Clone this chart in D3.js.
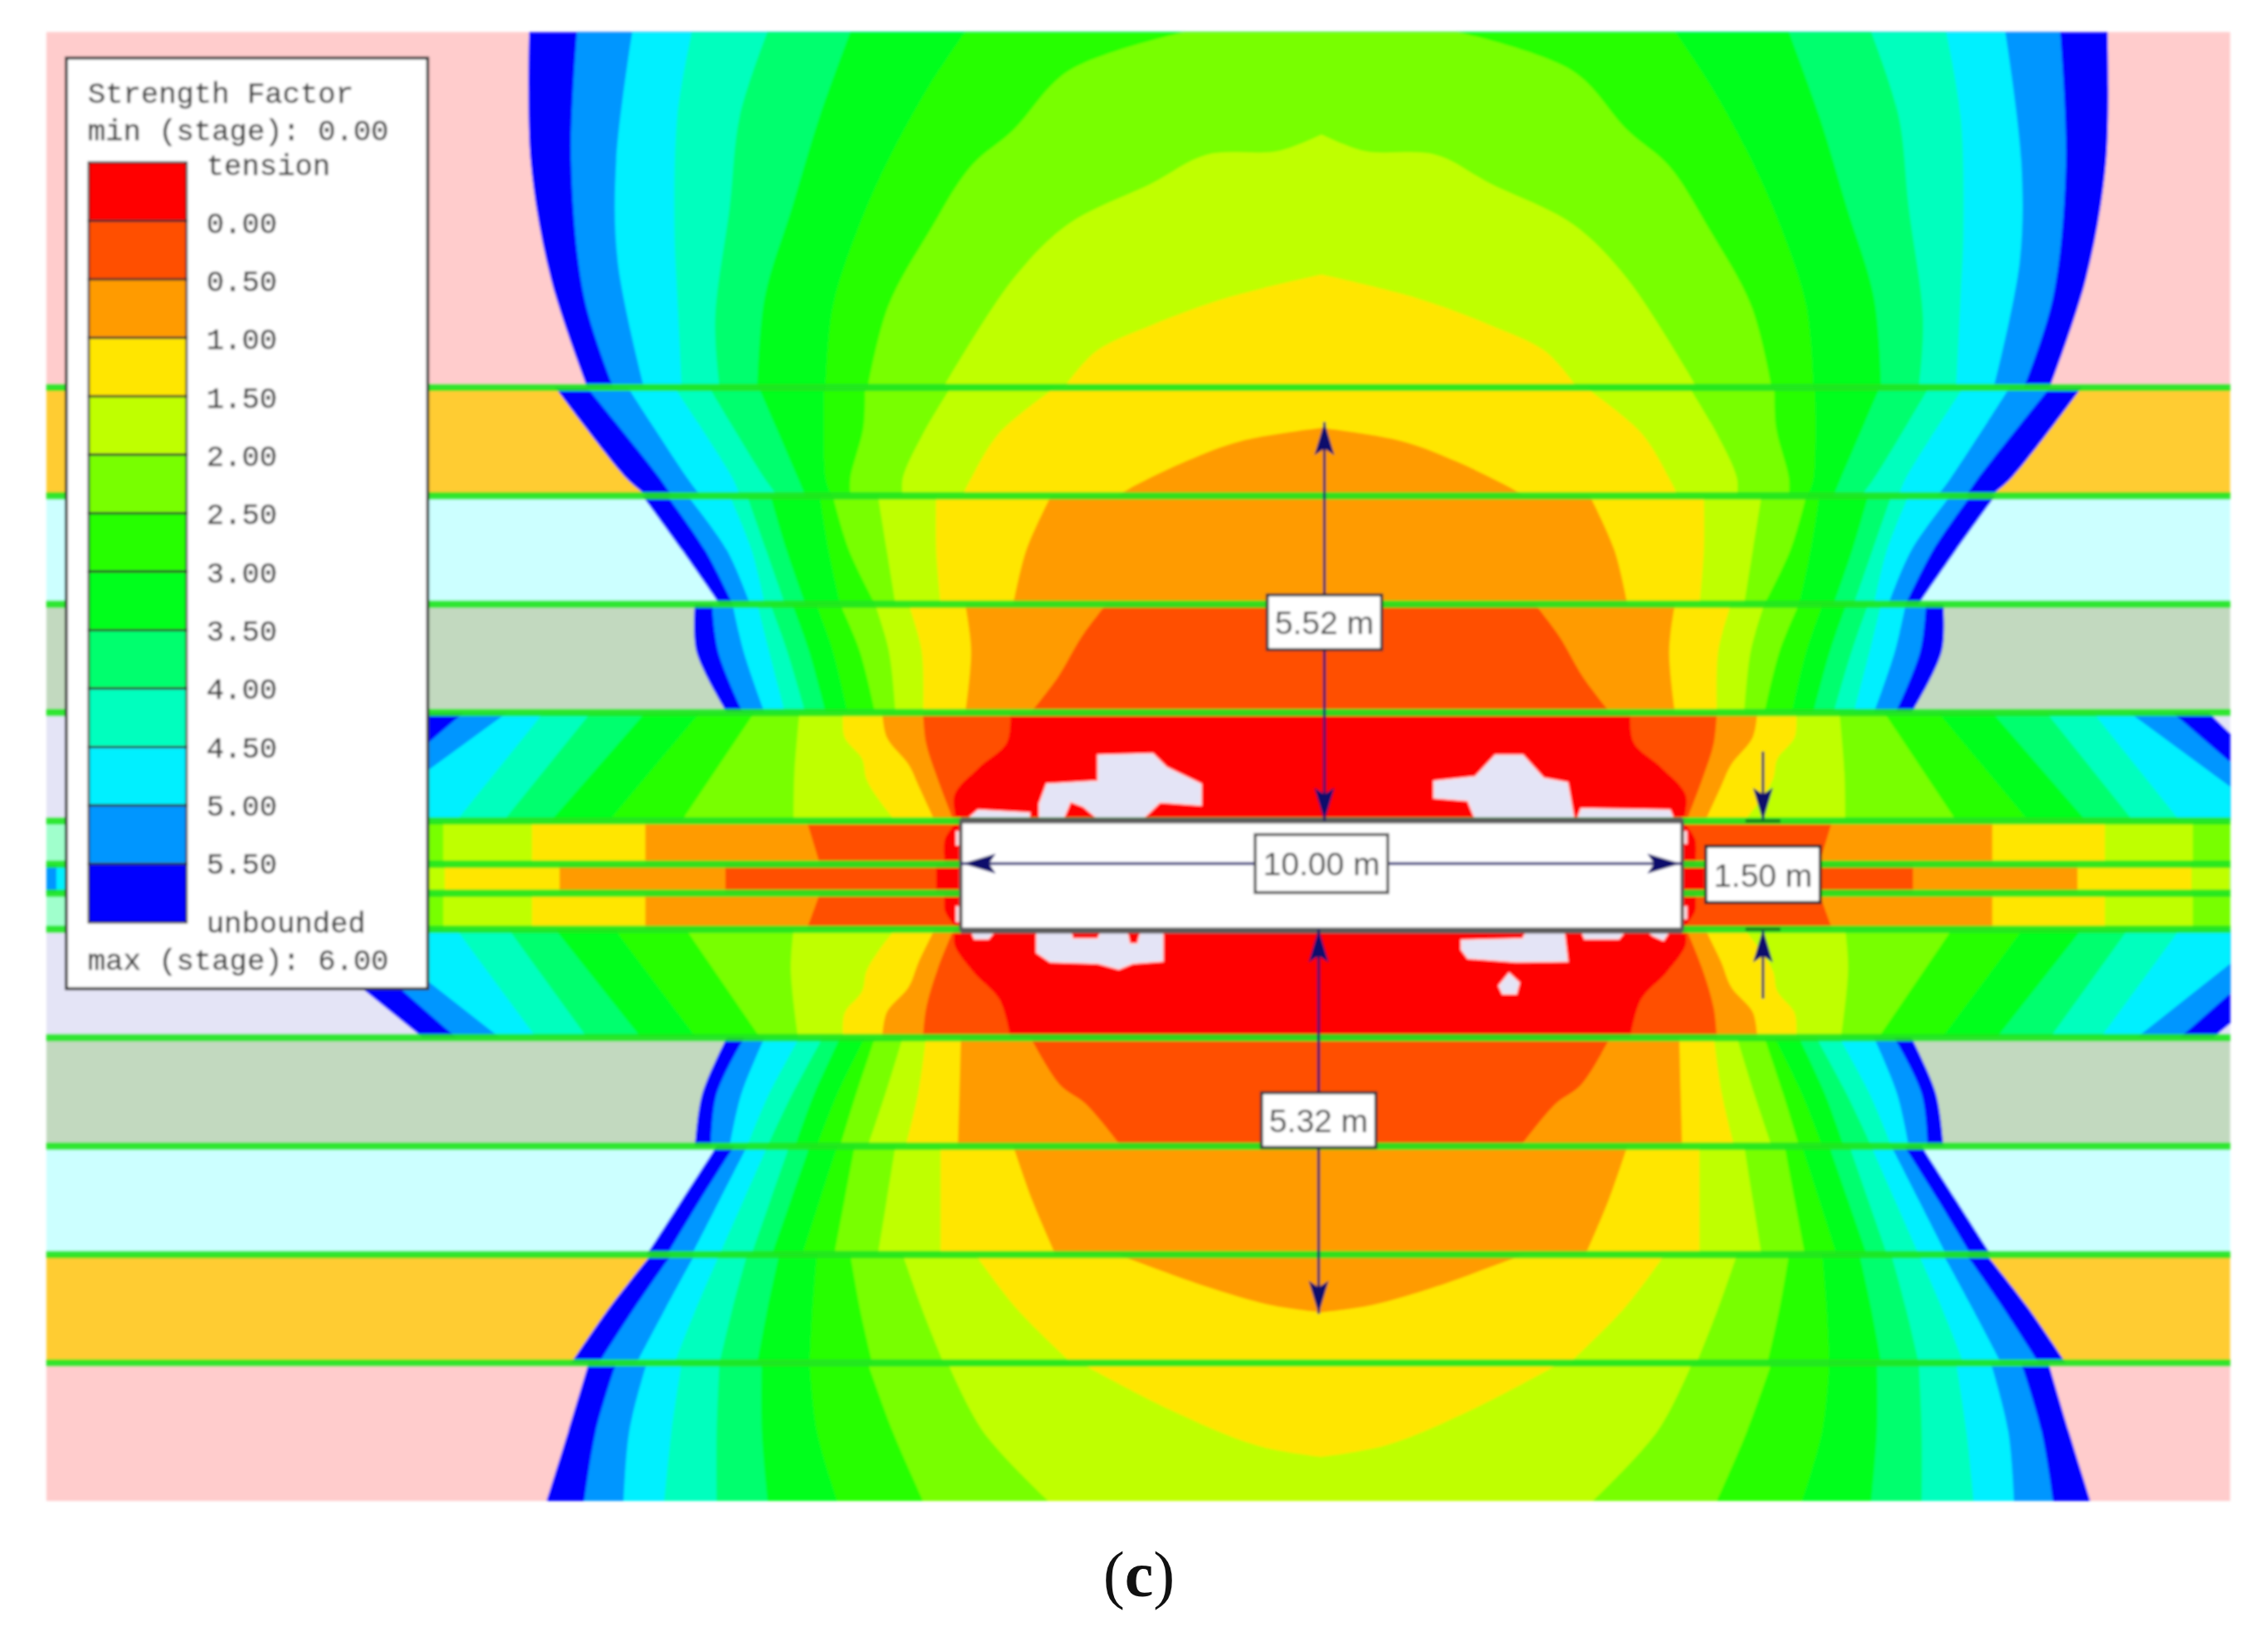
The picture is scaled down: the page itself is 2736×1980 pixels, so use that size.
<!DOCTYPE html>
<html lang="en">
<head>
<meta charset="UTF-8">
<title>Strength Factor</title>
<script src="https://cdn.jsdelivr.net/npm/d3@7"></script>
<style>
html,body{margin:0;padding:0;background:#fff;}
svg{display:block;}
</style>
</head>
<body>
<script>
// all model values in metres, x = half width from the opening centre, y up from its centreline
var legendColors=["#ff0000","#ff5000","#ff9b00","#ffe600","#bfff00","#78ff00","#28ff00","#00ff1e","#00ff6e","#00ffbe","#00f0ff","#0096ff","#0000ff"];
var legendLabels=["tension","0.00","0.50","1.00","1.50","2.00","2.50","3.00","3.50","4.00","4.50","5.00","5.50","unbounded"];
// contour colours, outermost first
var levelColors=legendColors.slice().reverse();

var interfaces=[6.75,5.25,3.75,2.25,0.75,0.15,-0.25,-0.75,-2.25,-3.75,-5.25,-6.75];
var layerTops=[11.67,6.75,5.25,3.75,2.25,0.75,0.15,-0.25,-0.75,-2.25,-3.75,-5.25,-6.75];
var layerBottoms=[6.75,5.25,3.75,2.25,0.75,0.15,-0.25,-0.75,-2.25,-3.75,-5.25,-6.75,-8.66];
var layerFills=["#ffcccc","#ffcc33","#ccffff","#c2d9bf","#e4e4f6","#a0ffcc","#0096ff","#a0ffcc","#e4e4f6","#c2d9bf","#ccffff","#ffcc33","#ffcccc"];

var contours0=[
 [[10.90,11.67],[10.88,9.89],[10.60,8.25],[10.10,6.75]],
 [[10.24,11.67],[10.32,9.89],[10.14,7.99],[9.74,6.75]],
 [[9.48,11.67],[9.70,9.89],[9.68,8.49],[9.32,6.75]],
 [[8.66,11.67],[8.86,10.51],[8.90,8.93],[8.86,7.99],[8.80,6.75]],
 [[7.62,11.67],[8.00,10.51],[8.14,9.25],[8.34,7.69],[8.28,6.75]],
 [[6.48,11.67],[6.90,10.51],[7.28,9.25],[7.66,7.99],[7.76,6.75]],
 [[4.90,11.67],[5.38,10.95],[5.96,9.89],[6.38,8.93],[6.72,7.87],[6.82,6.75]],
 [[1.88,11.67],[3.48,11.13],[4.24,10.31],[4.82,9.81],[5.38,8.93],[5.96,7.87],[6.24,6.75]],
 [[0,10.25],[0.60,10.02],[1.58,9.97],[2.34,9.57],[3.48,9.01],[4.24,8.25],[5.20,6.75]],
 [[0,8.31],[1.30,7.99],[2.34,7.61],[3.10,7.25],[3.54,6.75]]
];
var contours1=[
 [[10.54,6.75],[9.56,5.49],[9.28,5.25]],
 [[10.10,6.75],[9.10,5.49],[8.94,5.25]],
 [[9.54,6.75],[8.72,5.49],[8.54,5.25]],
 [[8.90,6.75],[8.10,5.49],[8.00,5.25]],
 [[8.42,6.75],[7.66,5.49],[7.48,5.25]],
 [[7.74,6.75],[7.20,5.49],[7.10,5.25]],
 [[6.84,6.75],[6.82,5.49],[6.74,5.25]],
 [[6.28,6.75],[6.30,6.20],[6.48,5.49],[6.48,5.25]],
 [[5.10,6.75],[5.48,6.11],[5.76,5.49],[5.76,5.25]],
 [[3.66,6.75],[4.44,6.11],[4.82,5.49],[4.94,5.25]],
 [[0,6.19],[1.10,6.01],[1.86,5.73],[2.64,5.35],[2.80,5.25]]
];
var contours2=[
 [[9.34,5.25],[8.80,4.50],[8.28,3.75]],
 [[9.00,5.25],[8.48,4.50],[8.10,3.75]],
 [[8.72,5.25],[8.18,4.50],[7.86,3.75]],
 [[8.14,5.25],[7.84,4.50],[7.66,3.75]],
 [[7.90,5.25],[7.64,4.50],[7.38,3.75]],
 [[7.58,5.25],[7.36,4.50],[7.10,3.75]],
 [[6.90,5.25],[6.78,4.50],[6.62,3.75]],
 [[6.72,5.25],[6.50,4.50],[6.14,3.75]],
 [[6.10,5.25],[5.98,4.50],[5.86,3.75]],
 [[5.30,5.25],[5.30,4.50],[5.24,3.75]],
 [[3.72,5.25],[4.06,4.50],[4.24,3.75]]
];
var contours3=[
 [[8.62,3.75],[8.60,3.10],[8.18,2.25]],
 [[8.38,3.75],[8.30,3.10],[7.96,2.25]],
 [[8.10,3.75],[7.95,3.10],[7.66,2.25]],
 [[7.76,3.75],[7.60,3.10],[7.38,2.25]],
 [[7.58,3.75],[7.35,3.10],[7.10,2.25]],
 [[7.28,3.75],[7.05,3.10],[6.82,2.25]],
 [[6.95,3.75],[6.72,3.10],[6.52,2.25]],
 [[6.62,3.75],[6.35,3.10],[6.14,2.25]],
 [[6.14,3.75],[5.95,3.10],[5.86,2.25]],
 [[5.68,3.75],[5.50,3.10],[5.48,2.25]],
 [[4.90,3.75],[4.82,3.10],[4.90,2.25]],
 [[2.96,3.75],[3.30,3.30],[3.62,2.75],[4.00,2.25]]
];
var contours4=[
 [[12.30,2.25],[13.86,0.75]],
 [[11.80,2.25],[13.54,0.75]],
 [[11.20,2.25],[13.24,0.75]],
 [[10.70,2.25],[11.90,0.75]],
 [[10.05,2.25],[11.25,0.75]],
 [[9.30,2.25],[10.60,0.75]],
 [[8.55,2.25],[9.80,0.75]],
 [[7.80,2.25],[8.80,0.75]],
 [[7.18,2.25],[7.25,1.40],[7.26,0.75]],
 [[6.58,2.25],[6.56,1.91],[6.32,1.61],[6.26,1.33],[6.08,1.03],[5.86,0.75]],
 [[6.04,2.25],[5.98,1.91],[5.68,1.53],[5.54,1.23],[5.32,0.75]],
 [[5.48,2.25],[5.44,1.83],[5.28,1.33],[5.06,0.75]],
 [[4.28,2.25],[4.33,1.83],[4.71,1.49],[5.05,1.11],[5.02,0.75]]
];
var contours5=[null,null,null,null,null,null,null,
 [[13.00,0.75],[13.00,0.15]],
 [[12.08,0.75],[12.08,0.15]],
 [[10.86,0.75],[10.86,0.15]],
 [[9.30,0.75],[9.30,0.15]],
 [[7.08,0.75],[6.90,0.15]],
 [[5.00,0.75],[5.18,0.50],[5.18,0.15]]
];
var contours6=[null,null,
 [[17.40,0.15],[17.40,-0.25]],
 null,null,null,null,null,
 [[13.00,0.15],[13.00,-0.25]],
 [[12.06,0.15],[12.06,-0.25]],
 [[10.48,0.15],[10.48,-0.25]],
 [[8.20,0.15],[8.20,-0.25]],
 [[5.30,0.15],[5.30,-0.25]]
];
var contours7=[null,null,null,null,null,null,null,
 [[13.00,-0.25],[13.00,-0.75]],
 [[12.08,-0.25],[12.08,-0.75]],
 [[10.86,-0.25],[10.86,-0.75]],
 [[9.30,-0.25],[9.30,-0.75]],
 [[6.90,-0.25],[7.08,-0.75]],
 [[5.18,-0.25],[5.18,-0.50],[5.00,-0.75]]
];
var contours8=[
 [[14.20,-0.75],[12.36,-2.25]],
 [[13.60,-0.75],[11.90,-2.25]],
 [[13.20,-0.75],[11.30,-2.25]],
 [[11.90,-0.75],[10.80,-2.25]],
 [[11.18,-0.75],[10.10,-2.25]],
 [[10.54,-0.75],[9.36,-2.25]],
 [[9.72,-0.75],[8.60,-2.25]],
 [[8.74,-0.75],[7.72,-2.25]],
 [[7.26,-0.75],[7.30,-1.30],[7.20,-2.25]],
 [[5.86,-0.75],[6.08,-1.03],[6.26,-1.33],[6.32,-1.61],[6.56,-1.91],[6.58,-2.25]],
 [[5.32,-0.75],[5.54,-1.20],[5.68,-1.55],[5.98,-1.90],[6.04,-2.25]],
 [[5.06,-0.75],[5.28,-1.30],[5.44,-1.85],[5.48,-2.25]],
 [[5.04,-0.75],[5.05,-0.96],[4.78,-1.35],[4.43,-1.72],[4.28,-2.25]]
];
var contours9=[
 [[8.18,-2.25],[8.52,-3.03],[8.62,-3.75]],
 [[7.94,-2.25],[8.32,-3.03],[8.40,-3.75]],
 [[7.66,-2.25],[7.98,-3.03],[8.14,-3.75]],
 [[7.18,-2.25],[7.60,-3.03],[7.90,-3.75]],
 [[6.86,-2.25],[7.28,-3.03],[7.62,-3.75]],
 [[6.62,-2.25],[6.98,-3.03],[7.24,-3.75]],
 [[6.28,-2.25],[6.66,-3.03],[6.94,-3.75]],
 [[6.14,-2.25],[6.40,-3.03],[6.62,-3.75]],
 [[5.76,-2.25],[6.00,-3.03],[6.24,-3.75]],
 [[5.44,-2.25],[5.55,-3.03],[5.72,-3.75]],
 [[4.96,-2.25],[4.98,-3.03],[5.00,-3.75]],
 [[4.00,-2.25],[3.60,-2.90],[3.24,-3.17],[2.76,-3.75]]
];
var contours10=[
 [[8.32,-3.75],[8.80,-4.50],[9.28,-5.25]],
 [[8.08,-3.75],[8.55,-4.50],[9.00,-5.25]],
 [[7.90,-3.75],[8.28,-4.50],[8.66,-5.25]],
 [[7.62,-3.75],[7.95,-4.50],[8.28,-5.25]],
 [[7.32,-3.75],[7.58,-4.50],[7.84,-5.25]],
 [[7.04,-3.75],[7.30,-4.50],[7.56,-5.25]],
 [[6.66,-3.75],[6.90,-4.50],[7.14,-5.25]],
 [[6.42,-3.75],[6.56,-4.50],[6.70,-5.25]],
 [[5.86,-3.75],[5.98,-4.50],[6.10,-5.25]],
 [[5.24,-3.75],[5.24,-4.50],[5.24,-5.25]],
 [[4.24,-3.75],[3.98,-4.50],[3.66,-5.25]]
];
var contours11=[
 [[9.22,-5.25],[9.80,-5.99],[10.32,-6.75]],
 [[8.94,-5.25],[9.45,-5.99],[9.94,-6.75]],
 [[8.62,-5.25],[9.02,-5.99],[9.42,-6.75]],
 [[8.28,-5.25],[8.60,-5.99],[8.90,-6.75]],
 [[7.90,-5.25],[8.10,-5.99],[8.28,-6.75]],
 [[7.46,-5.25],[7.62,-5.99],[7.76,-6.75]],
 [[6.94,-5.25],[7.00,-5.99],[7.04,-6.75]],
 [[6.48,-5.25],[6.35,-5.99],[6.18,-6.75]],
 [[5.76,-5.25],[5.50,-5.99],[5.20,-6.75]],
 [[4.76,-5.25],[4.20,-5.99],[3.44,-6.75]],
 [[0,-6.05],[0.70,-5.95],[1.60,-5.69],[2.80,-5.25]]
];
var contours12=[
 [[10.08,-6.75],[10.36,-7.69],[10.66,-8.66]],
 [[9.70,-6.75],[9.98,-7.69],[10.14,-8.66]],
 [[9.28,-6.75],[9.52,-7.69],[9.60,-8.66]],
 [[8.80,-6.75],[8.94,-7.69],[9.04,-8.66]],
 [[8.28,-6.75],[8.32,-7.69],[8.32,-8.66]],
 [[7.70,-6.75],[7.70,-7.69],[7.62,-8.66]],
 [[7.04,-6.75],[6.94,-7.69],[6.66,-8.66]],
 [[6.24,-6.75],[5.90,-7.69],[5.48,-8.66]],
 [[5.14,-6.75],[4.66,-7.69],[3.76,-8.66]],
 [[3.32,-6.75],[2.10,-7.39],[0.90,-7.89],[0,-8.05]]
];
var layerContours=[contours0,contours1,contours2,contours3,contours4,contours5,contours6,contours7,contours8,contours9,contours10,contours11,contours12];
// contours read a little wider on the left of the opening
var leftStretch=1.008;

// unbounded patches around the opening, [x,y] in metres
var patches=[
 [[-3.10,1.66],[-2.34,1.68],[-2.15,1.49],[-1.67,1.26],[-1.67,0.97],[-2.24,1.01],[-2.48,0.78],[-3.10,0.78],[-3.30,0.95],[-3.48,1.02],[-3.58,0.78],[-3.91,0.78],[-3.91,0.99],[-3.81,1.26],[-3.10,1.30]],
 [[-4.90,0.78],[-4.76,0.90],[-4.05,0.86],[-4.05,0.78]],
 [[2.41,1.66],[2.79,1.66],[3.08,1.34],[3.41,1.28],[3.50,0.78],[2.13,0.78],[2.03,1.03],[1.56,1.07],[1.56,1.30],[2.13,1.36]],
 [[3.55,0.78],[3.60,0.92],[4.83,0.90],[4.88,0.78]],
 [[-3.95,-0.76],[-3.48,-0.76],[-3.45,-0.88],[-3.10,-0.88],[-3.05,-0.76],[-2.70,-0.76],[-2.66,-0.95],[-2.55,-0.95],[-2.50,-0.76],[-2.20,-0.76],[-2.20,-1.19],[-2.62,-1.22],[-2.81,-1.30],[-3.10,-1.22],[-3.76,-1.20],[-3.95,-1.07]],
 [[-4.86,-0.76],[-4.52,-0.76],[-4.62,-0.88],[-4.81,-0.88]],
 [[2.79,-0.88],[2.85,-0.76],[3.36,-0.76],[3.41,-1.19],[2.70,-1.20],[2.03,-1.15],[1.94,-1.03],[1.94,-0.90]],
 [[3.60,-0.76],[4.22,-0.76],[4.12,-0.88],[3.65,-0.88]],
 [[4.50,-0.76],[4.83,-0.76],[4.74,-0.90],[4.60,-0.84]],
 [[2.60,-1.36],[2.74,-1.49],[2.70,-1.64],[2.51,-1.64],[2.46,-1.53]],
 [[-5.06,0.60],[-5.03,0.60],[-5.03,0.42],[-5.06,0.42]],
 [[-5.06,-0.44],[-5.03,-0.44],[-5.03,-0.64],[-5.06,-0.64]],
 [[5.03,0.60],[5.06,0.60],[5.06,0.44],[5.03,0.44]],
 [[5.03,-0.44],[5.06,-0.44],[5.06,-0.60],[5.03,-0.60]]
];

var opening=[-5,5,0.75,-0.75];
var dimV=[["5.52 m",0.04,0.75,6.27,3.5],["5.32 m",-0.04,-0.75,-6.07,-3.39]];
var dimH=["10.00 m",-5,5,0.16];
var dimGap=["1.50 m",6.12,0.75,-0.75];

var W=2736,H=1980;
var x=d3.scaleLinear().domain([-17.68,12.60]).range([55.8,2690.6]);
var y=d3.scaleLinear().domain([11.67,-8.66]).range([38.4,1811]);
var navy="#0c0c6c";

var svg=d3.select("body").append("svg").attr("width",W).attr("height",H);
var defs=svg.append("defs");
defs.append("filter").attr("id","soft").append("feGaussianBlur").attr("stdDeviation",1.4);
var root=svg.append("g").attr("filter","url(#soft)");

var sideLine=d3.line().x(function(d){return x(d[0]);}).y(function(d){return y(d[1]);}).curve(d3.curveCatmullRom.alpha(0.5));
function contourPath(pts){
  var right=sideLine(pts);
  var left=sideLine(pts.slice().reverse().map(function(p){return [-p[0]*leftStretch,p[1]];}));
  return right+"L"+left.slice(1)+"Z";
}

var layers=root.selectAll("g.layer").data(layerFills).enter().append("g").attr("class","layer");
layers.each(function(fill,i){
  var top=y(layerTops[i]),h=y(layerBottoms[i])-top;
  defs.append("clipPath").attr("id","layer"+i).append("rect")
    .attr("x",x.range()[0]).attr("y",top).attr("width",x.range()[1]-x.range()[0]).attr("height",h);
  var g=d3.select(this).attr("clip-path","url(#layer"+i+")");
  g.append("rect").attr("x",x.range()[0]).attr("y",top).attr("width",x.range()[1]-x.range()[0]).attr("height",h).attr("fill",fill);
  layerContours[i].forEach(function(pts,k){
    if(!pts)return;
    g.append("path").attr("d",contourPath(pts)).attr("fill",levelColors[k]);
  });
});
root.selectAll("path.patch").data(patches).enter().append("path").attr("class","patch")
  .attr("d",function(d){return d3.line().x(function(p){return x(p[0]);}).y(function(p){return y(p[1]);})(d)+"Z";})
  .attr("fill","#e4e4f6").attr("stroke","#ffd8dc").attr("stroke-width",2);

root.selectAll("line.interface").data(interfaces).enter().append("line").attr("class","interface")
  .attr("x1",x.range()[0]).attr("x2",x.range()[1])
  .attr("y1",function(d){return y(d);}).attr("y2",function(d){return y(d);})
  .attr("stroke","#1fe61f").attr("stroke-opacity",0.9).attr("stroke-width",9);

root.append("rect").attr("x",x(opening[0])).attr("y",y(opening[2]))
  .attr("width",x(opening[1])-x(opening[0])).attr("height",y(opening[3])-y(opening[2]))
  .attr("fill","#fff").attr("stroke","#555").attr("stroke-width",4);
root.append("rect").attr("x",x(opening[0])).attr("y",y(opening[2])-4).attr("width",x(opening[1])-x(opening[0])).attr("height",7).attr("fill","#5c5c5c");
root.append("rect").attr("x",x(opening[0])).attr("y",y(opening[3])-2).attr("width",x(opening[1])-x(opening[0])).attr("height",7).attr("fill","#5c5c5c");

// arrowhead with its tip at px,py, pointing along dx,dy
function arrowHead(px,py,dx,dy){
  var L=40,w=12,n=32;
  var bx=px-dx*L,by=py-dy*L,mx=px-dx*n,my=py-dy*n;
  root.append("path").attr("fill",navy)
    .attr("d","M"+px+","+py+"L"+(bx-dy*w)+","+(by+dx*w)+"L"+mx+","+my+"L"+(bx+dy*w)+","+(by-dx*w)+"Z");
}
function dimBox(label,cx,cy,w,h,stroke){
  root.append("rect").attr("x",cx-w/2).attr("y",cy-h/2).attr("width",w).attr("height",h)
    .attr("fill","#fff").attr("stroke",stroke).attr("stroke-width",3.5);
  root.append("text").attr("x",cx).attr("y",cy+1).attr("text-anchor","middle").attr("dominant-baseline","central")
    .attr("font-family","'Liberation Sans',Arial,sans-serif").attr("font-size",39).attr("fill","#3c3c3c").text(label);
}
function vArrow(xm,fromY,toY){
  root.append("line").attr("x1",x(xm)).attr("x2",x(xm)).attr("y1",y(fromY)).attr("y2",y(toY)).attr("stroke",navy).attr("stroke-width",3);
}
dimV.forEach(function(d){
  vArrow(d[1],d[2],d[3]);
  var s=d[3]>d[2]?1:-1;
  arrowHead(x(d[1]),y(d[3]),0,-s);
  arrowHead(x(d[1]),y(d[2]),0,s);
  dimBox(d[0],x(d[1]),y(d[4]),138,66,"#333");
});
root.append("line").attr("x1",x(dimH[1])).attr("x2",x(dimH[2])).attr("y1",y(dimH[3])).attr("y2",y(dimH[3])).attr("stroke",navy).attr("stroke-width",3);
arrowHead(x(dimH[1])+2,y(dimH[3]),-1,0);
arrowHead(x(dimH[2])-2,y(dimH[3]),1,0);
dimBox(dimH[0],x(0),y(dimH[3]),160,70,"#555");

// gap dimension outside the opening, arrows point inward from outside
vArrow(dimGap[1],dimGap[2]+0.96,dimGap[2]);
vArrow(dimGap[1],dimGap[3]-0.96,dimGap[3]);
arrowHead(x(dimGap[1]),y(dimGap[2]),0,1);
arrowHead(x(dimGap[1]),y(dimGap[3]),0,-1);
[dimGap[2],dimGap[3]].forEach(function(v){
  root.append("line").attr("x1",x(dimGap[1])-21).attr("x2",x(dimGap[1])+21).attr("y1",y(v)).attr("y2",y(v)).attr("stroke","#1a7a1a").attr("stroke-width",4);
});
dimBox(dimGap[0],x(dimGap[1]),y(0.01),138,68,"#222");

// legend
var legend=root.append("g").attr("font-family","'Liberation Mono','DejaVu Sans Mono',monospace").attr("font-size",35.6).attr("fill","#3a3a3a").attr("stroke","#3a3a3a").attr("stroke-width",0.4);
legend.append("rect").attr("x",80).attr("y",70).attr("width",436).attr("height",1123).attr("fill","#fff").attr("stroke","#333").attr("stroke-width",3.5);
var swatchY=d3.scaleLinear().domain([0,legendColors.length]).range([196,1113]);
// labels sit a touch tighter than the swatches
var labelY=d3.scaleLinear().domain([0,legendColors.length]).range([201,1115]);
legend.selectAll("rect.swatch").data(legendColors).enter().append("rect").attr("class","swatch")
  .attr("x",107).attr("width",118)
  .attr("y",function(d,i){return swatchY(i);})
  .attr("height",function(d,i){return swatchY(i+1)-swatchY(i);})
  .attr("fill",function(d){return d;}).attr("stroke","#2a2a2a").attr("stroke-width",2.5);
legend.selectAll("text.lab").data(legendLabels).enter().append("text").attr("class","lab")
  .attr("x",249).attr("y",function(d,i){return labelY(i);})
  .attr("dominant-baseline","central").text(function(d){return d;});
legend.append("text").attr("x",106).attr("y",114).attr("dominant-baseline","central").text("Strength Factor");
legend.append("text").attr("x",106).attr("y",159).attr("dominant-baseline","central").text("min (stage): 0.00");
legend.append("text").attr("x",106).attr("y",1160).attr("dominant-baseline","central").text("max (stage): 6.00");

// panel letter
var cap=svg.append("text").attr("x",1374).attr("y",1926).attr("text-anchor","middle")
  .attr("font-family","'Liberation Serif',serif").attr("font-size",78).attr("fill","#111");
cap.append("tspan").text("(");
cap.append("tspan").attr("font-weight","bold").text("c");
cap.append("tspan").text(")");
</script>
</body>
</html>
